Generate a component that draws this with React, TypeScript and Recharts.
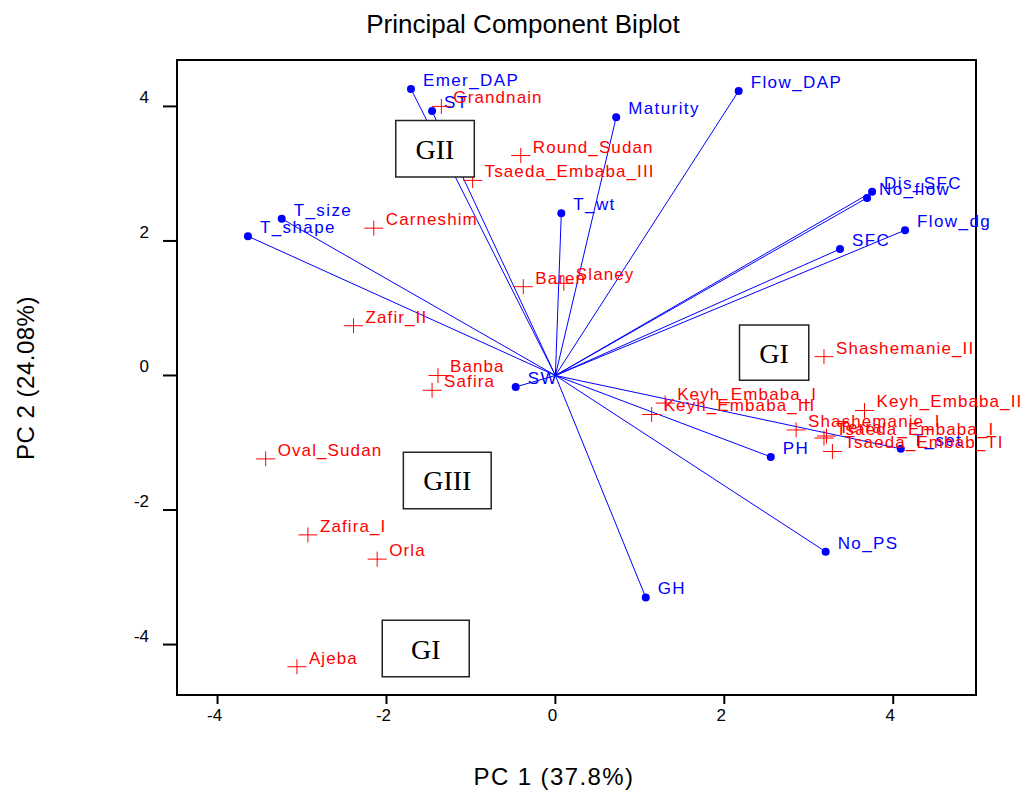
import React from 'react';
import { ScatterChart, Scatter, XAxis, YAxis, ReferenceLine, ReferenceArea } from 'recharts';

// genotype scores (red crosses)
const genotypes = ['Grandnain', 'Round_Sudan', 'Tsaeda_Embaba_III', 'Carneshim', 'Baren', 'Slaney', 'Zafir_II', 'Banba', 'Safira', 'Oval_Sudan', 'Zafira_I', 'Orla', 'Ajeba', 'Shashemanie_II', 'Keyh_Embaba_I', 'Keyh_Embaba_III', 'Keyh_Embaba_II', 'Shashemanie_I', 'Terra', 'Tsaeda_Embaba_I', 'Tsaeda_Embab_TI'];
const genoPC1 = [-1.35, -0.41, -0.98, -2.15, -0.38, 0.1, -2.39, -1.39, -1.46, -3.43, -2.93, -2.11, -3.06, 3.18, 1.3, 1.14, 3.66, 2.85, 3.21, 3.18, 3.28];
const genoPC2 = [4.0, 3.27, 2.9, 2.19, 1.32, 1.37, 0.74, 0.0, -0.22, -1.24, -2.37, -2.73, -4.33, 0.28, -0.41, -0.58, -0.52, -0.81, -0.9, -0.93, -1.13];

// trait loadings (blue vectors)
const traits = ['Emer_DAP', 'ST', 'T_size', 'T_shape', 'T_wt', 'Maturity', 'Flow_DAP', 'Dis_SFC', 'No_flow', 'Flow_dg', 'SFC', 'SW', 'PH', 'T_set', 'No_PS', 'GH'];
const traitPC1 = [-1.71, -1.46, -3.24, -3.64, 0.07, 0.72, 2.17, 3.75, 3.69, 4.14, 3.37, -0.47, 2.55, 4.09, 3.2, 1.07];
const traitPC2 = [4.26, 3.93, 2.33, 2.07, 2.41, 3.84, 4.23, 2.73, 2.64, 2.16, 1.88, -0.17, -1.21, -1.09, -2.62, -3.3];

// group boxes
const groupNames = ['GII', 'GI', 'GIII', 'GI'];
const groupX1 = [-1.89, 2.18, -1.8, -2.05];
const groupX2 = [-0.96, 3.0, -0.76, -1.02];
const groupYTop = [3.79, 0.75, -1.14, -3.64];
const groupYBottom = [2.95, -0.07, -1.98, -4.48];

const xTicks = [-4, -2, 0, 2, 4];
const yTicks = [-4, -2, 0, 2, 4];
const xDomain = [-4.48, 4.98];
const yDomain = [-4.75, 4.69];

const BLUE = '#0000ff';
const RED = '#ff0000';
const SANS = '"Liberation Sans", Arial, sans-serif';
const SERIF = '"Liberation Serif", "Times New Roman", serif';

const genoData = genotypes.map((name, i) => ({ name, x: genoPC1[i], y: genoPC2[i] }));
const traitData = traits.map((name, i) => ({ name, x: traitPC1[i], y: traitPC2[i] }));

const GenoMark = (props: any) => {
  const { cx, cy, payload } = props;
  return (
    <g>
      <line x1={cx - 9.5} x2={cx + 9.5} y1={cy} y2={cy} stroke={RED} strokeWidth={1} />
      <line x1={cx} x2={cx} y1={cy - 7.5} y2={cy + 7.5} stroke={RED} strokeWidth={1} />
      <text x={cx + 12} y={cy - 3} fill={RED} fontSize={17} fontFamily={SANS} letterSpacing={1.1}>
        {payload.name}
      </text>
    </g>
  );
};

const TraitMark = (props: any) => {
  const { cx, cy, payload } = props;
  return (
    <g>
      <circle cx={cx} cy={cy} r={4} fill={BLUE} />
      <text x={cx + 12} y={cy - 3} fill={BLUE} fontSize={17} fontFamily={SANS} letterSpacing={1.4}>
        {payload.name}
      </text>
    </g>
  );
};

const YTick = ({ x, y, payload }: any) => (
  <text x={x} y={y} dy={-3} textAnchor="end" fontSize={17} fontFamily={SANS} fill="#000">
    {payload.value}
  </text>
);

const XTick = ({ x, y, payload }: any) => (
  <text x={x - 3} y={y} dy={13} textAnchor="middle" fontSize={17} fontFamily={SANS} fill="#000">
    {payload.value}
  </text>
);

export default function App() {
  return (
    <div style={{ position: 'absolute', left: 0, top: 0, width: 1028, height: 792, background: '#fff' }}>
      <ScatterChart
        width={1028}
        height={792}
        margin={{ top: 60, right: 52, bottom: 67, left: 117 }}
        style={{ overflow: 'visible' }}
      >
        <XAxis
          type="number"
          dataKey="x"
          domain={xDomain}
          ticks={xTicks}
          height={30}
          axisLine={{ stroke: '#000', strokeWidth: 2 }}
          tickLine={{ stroke: '#000', strokeWidth: 2 }}
          tickSize={9}
          tickMargin={4}
          tick={<XTick />}
        />
        <YAxis
          type="number"
          dataKey="y"
          domain={yDomain}
          ticks={yTicks}
          width={60}
          axisLine={{ stroke: '#000', strokeWidth: 2 }}
          tickLine={{ stroke: '#000', strokeWidth: 2 }}
          tickSize={14}
          tickMargin={14}
          tick={<YTick />}
        />

        {/* plot frame */}
        <ReferenceArea
          x1={xDomain[0]}
          x2={xDomain[1]}
          y1={yDomain[0]}
          y2={yDomain[1]}
          fill="none"
          stroke="#000"
          strokeWidth={2}
        />

        {traitData.map((t) => (
          <ReferenceLine
            key={'v' + t.name}
            segment={[{ x: 0, y: 0 }, { x: t.x, y: t.y }]}
            stroke={BLUE}
            strokeWidth={1}
          />
        ))}

        <Scatter data={traitData} shape={<TraitMark />} isAnimationActive={false} />
        <Scatter data={genoData} shape={<GenoMark />} isAnimationActive={false} />

        {groupNames.map((g, i) => (
          <ReferenceArea
            key={'g' + i}
            x1={groupX1[i]}
            x2={groupX2[i]}
            y1={groupYBottom[i]}
            y2={groupYTop[i]}
            fill="#fff"
            fillOpacity={1}
            stroke="#222"
            strokeWidth={1.5}
            zIndex={1000}
            label={{ value: g, position: 'center', fontSize: 28, fontFamily: SERIF, fill: '#000' }}
          />
        ))}
      </ScatterChart>

      <svg width={1028} height={792} style={{ position: 'absolute', left: 0, top: 0, pointerEvents: 'none' }}>
        <text x={523} y={33} textAnchor="middle" fontSize={26} fontFamily={SANS} fill="#000">
          Principal Component Biplot
        </text>
        <text x={554} y={785} textAnchor="middle" fontSize={24} fontFamily={SANS} letterSpacing={1.4} fill="#000">
          PC 1 (37.8%)
        </text>
        <text
          x={34}
          y={378}
          textAnchor="middle"
          fontSize={24}
          fontFamily={SANS}
          letterSpacing={0.5}
          fill="#000"
          transform="rotate(-90 34 378)"
        >
          PC 2 (24.08%)
        </text>
      </svg>
    </div>
  );
}
